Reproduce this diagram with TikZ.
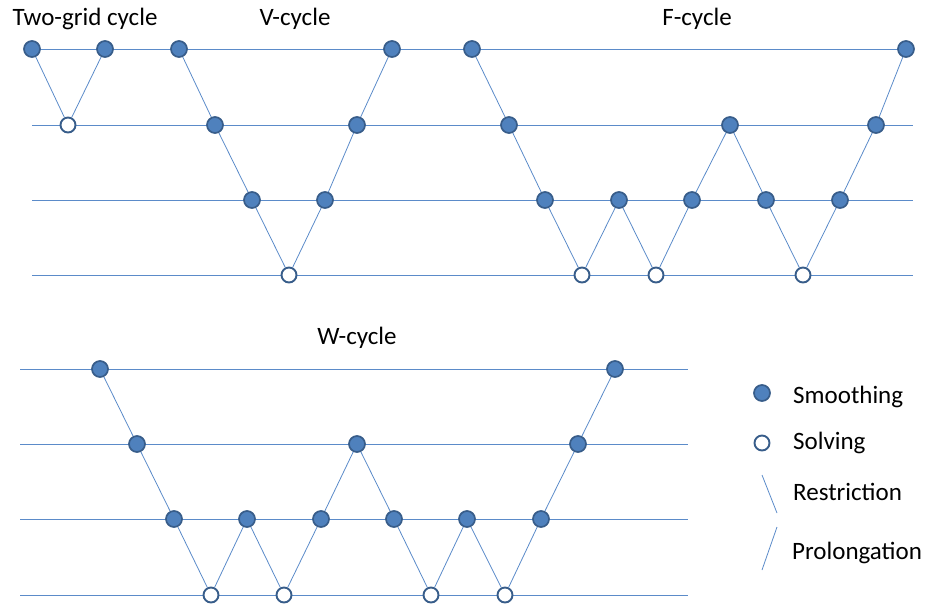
\documentclass[tikz,border=0pt]{standalone}
\usepackage{fontspec}
\setmainfont{Carlito}
\definecolor{dotfill}{HTML}{4F81BD}
\definecolor{dotedge}{HTML}{385D8A}
\definecolor{linec}{HTML}{5B8BC9}
\begin{document}
\begin{tikzpicture}[x=1pt,y=-1pt,
  smooth/.style={circle,fill=dotfill,draw=dotedge,line width=1.7pt,minimum size=16pt,inner sep=0pt},
  solve/.style={circle,fill=white,draw=dotedge,line width=1.9pt,minimum size=15pt,inner sep=0pt},
  grid/.style={draw=linec,line width=0.8pt},
  conn/.style={draw=linec,line width=0.8pt},
  lab/.style={font=\fontsize{25}{30}\selectfont,inner sep=0pt}]
\useasboundingbox (0,0) rectangle (930,606);
% grid lines top
\coordinate (t1a) at (32,49);  \coordinate (t1b) at (906,49);
\coordinate (t2a) at (32,125); \coordinate (t2b) at (913,125);
\coordinate (t3a) at (32,200); \coordinate (t3b) at (913,200);
\coordinate (t4a) at (32,275); \coordinate (t4b) at (913,275);
\draw[grid] (t1a) -- (t1b);
\draw[grid] (t2a) -- (t2b);
\draw[grid] (t3a) -- (t3b);
\draw[grid] (t4a) -- (t4b);
% grid lines bottom
\coordinate (b1a) at (20,369); \coordinate (b1b) at (688,369);
\coordinate (b2a) at (20,444); \coordinate (b2b) at (688,444);
\coordinate (b3a) at (20,519); \coordinate (b3b) at (688,519);
\coordinate (b4a) at (20,595); \coordinate (b4b) at (688,595);
\draw[grid] (b1a) -- (b1b);
\draw[grid] (b2a) -- (b2b);
\draw[grid] (b3a) -- (b3b);
\draw[grid] (b4a) -- (b4b);
% titles
\node[lab] (ttwo) at (85,19) {Two-grid cycle};
\node[lab] (tv) at (295,19) {V-cycle};
\node[lab] (tf) at (697,19) {F-cycle};
\node[lab] (tw) at (357,338) {W-cycle};
% two-grid
\node[smooth] (g1) at (32,49) {};
\node[solve] (g2) at (68,125) {};
\node[smooth] (g3) at (105,49) {};
% V-cycle
\node[smooth] (v1) at (179,49) {};
\node[smooth] (v2) at (215,125) {};
\node[smooth] (v3) at (252,200) {};
\node[solve] (v4) at (289,275) {};
\node[smooth] (v5) at (325,200) {};
\node[smooth] (v6) at (357,125) {};
\node[smooth] (v7) at (392,49) {};
% F-cycle
\node[smooth] (f1) at (472,49) {};
\node[smooth] (f2) at (509,125) {};
\node[smooth] (f3) at (545,200) {};
\node[solve] (f4) at (582,275) {};
\node[smooth] (f5) at (619,200) {};
\node[solve] (f6) at (656,275) {};
\node[smooth] (f7) at (692,200) {};
\node[smooth] (f8) at (730,125) {};
\node[smooth] (f9) at (766,200) {};
\node[solve] (f10) at (803,275) {};
\node[smooth] (f11) at (840,200) {};
\node[smooth] (f12) at (876,125) {};
\node[smooth] (f13) at (906,49) {};
% W-cycle
\node[smooth] (w1) at (100,369) {};
\node[smooth] (w2) at (137,444) {};
\node[smooth] (w3) at (174,519) {};
\node[solve] (w4) at (211,595) {};
\node[smooth] (w5) at (247,519) {};
\node[solve] (w6) at (284,595) {};
\node[smooth] (w7) at (321,519) {};
\node[smooth] (w8) at (357,444) {};
\node[smooth] (w9) at (394,519) {};
\node[solve] (w10) at (431,595) {};
\node[smooth] (w11) at (467,519) {};
\node[solve] (w12) at (505,595) {};
\node[smooth] (w13) at (541,519) {};
\node[smooth] (w14) at (578,444) {};
\node[smooth] (w15) at (615,369) {};
% connectors
\draw[conn] (g1) -- (g2) -- (g3);
\draw[conn] (v1) -- (v2) -- (v3) -- (v4) -- (v5) -- (v6) -- (v7);
\draw[conn] (f1) -- (f2) -- (f3) -- (f4) -- (f5) -- (f6) -- (f7) -- (f8) -- (f9) -- (f10) -- (f11) -- (f12) -- (f13);
\draw[conn] (w1) -- (w2) -- (w3) -- (w4) -- (w5) -- (w6) -- (w7) -- (w8) -- (w9) -- (w10) -- (w11) -- (w12) -- (w13) -- (w14) -- (w15);
% legend
\node[smooth] (ls) at (762,393) {};
\node[solve] (lv) at (762,443) {};
\coordinate (lr1) at (762,475); \coordinate (lr2) at (777,513);
\coordinate (lp1) at (777,527); \coordinate (lp2) at (762,570);
\draw[conn] (lr1) -- (lr2);
\draw[conn] (lp1) -- (lp2);
\node[lab,anchor=west] (lts) at (793,397) {Smoothing};
\node[lab,anchor=west] (ltv) at (793,443) {Solving};
\node[lab,anchor=west] (ltr) at (793,492) {Restriction};
\node[lab,anchor=west] (ltp) at (792,553) {Prolongation};
\end{tikzpicture}
\end{document}
